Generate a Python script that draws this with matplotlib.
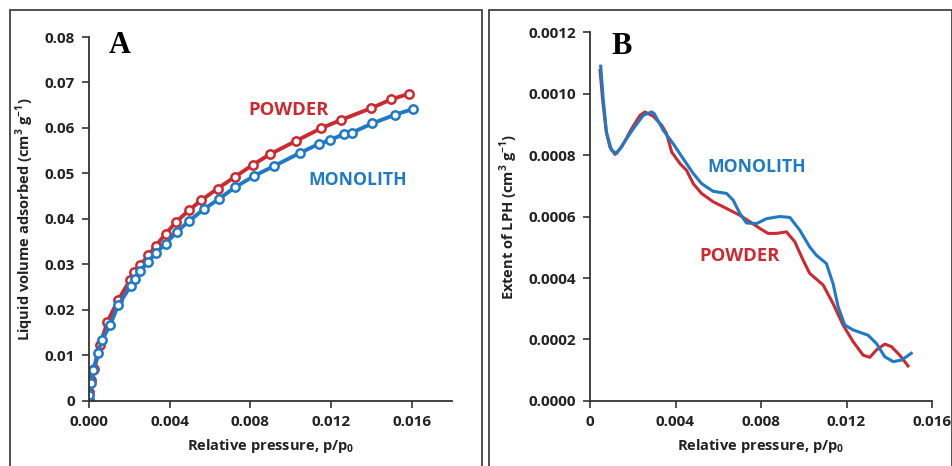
import matplotlib.pyplot as plt
from matplotlib.patches import Rectangle

plt.rcParams['font.family'] = ['Open Sans', 'DejaVu Sans']
plt.rcParams['mathtext.fontset'] = 'custom'
plt.rcParams['mathtext.rm'] = 'Open Sans:bold'
plt.rcParams['mathtext.bf'] = 'Open Sans:bold'

RED = '#CC2A30'
BLUE = '#1E7AC6'

# panel A: isotherm points
powder_x = [0.0, 0.00002, 0.0001, 0.00027, 0.00055, 0.00091, 0.00146, 0.00204,
            0.00224, 0.00255, 0.00295, 0.00331, 0.00381, 0.00431, 0.00495,
            0.00556, 0.00638, 0.00725, 0.00812, 0.00896, 0.01024, 0.01149,
            0.01251, 0.01396, 0.01499, 0.01585]
powder_y = [0.0002, 0.002, 0.0046, 0.0070, 0.0123, 0.0174, 0.0223, 0.0266,
            0.0283, 0.0299, 0.0320, 0.0341, 0.0368, 0.0393, 0.0419, 0.0441,
            0.0467, 0.0493, 0.0519, 0.0542, 0.0571, 0.0599, 0.0618, 0.0643,
            0.0663, 0.0675]
mono_x = [0.0, 0.00002, 0.0001, 0.00022, 0.00043, 0.00065, 0.00104, 0.00146,
          0.00207, 0.00227, 0.00253, 0.00291, 0.0033, 0.00381, 0.00434,
          0.00497, 0.00568, 0.00644, 0.00725, 0.0082, 0.00916, 0.01045,
          0.0114, 0.01194, 0.01264, 0.01305, 0.01405, 0.01516, 0.01608]
mono_y = [0.0002, 0.0013, 0.0039, 0.0068, 0.0105, 0.0134, 0.0167, 0.0211,
          0.0253, 0.0269, 0.0286, 0.0305, 0.0325, 0.0346, 0.0371, 0.0396,
          0.0421, 0.0444, 0.0470, 0.0495, 0.0516, 0.0545, 0.0565, 0.0573,
          0.0587, 0.0590, 0.0610, 0.0629, 0.0642]

# panel B: extent of LPH curves
lph_mono_x = [0.0005, 0.00062, 0.00078, 0.00101, 0.00125, 0.00156, 0.00203,
              0.00249, 0.00288, 0.0030, 0.00343, 0.00389, 0.00436, 0.00483,
              0.00522, 0.00576, 0.00639, 0.0067, 0.00701, 0.00732, 0.00779,
              0.00826, 0.00888, 0.00935, 0.00981, 0.01028, 0.01059, 0.01106,
              0.01137, 0.01161, 0.01192, 0.01231, 0.01301, 0.0134, 0.01379,
              0.01418, 0.01457, 0.01503]
lph_mono_y = [0.001089, 0.00098, 0.00087, 0.000815, 0.000805, 0.000837,
              0.000886, 0.000929, 0.00094, 0.000935, 0.00088, 0.000837,
              0.000788, 0.00074, 0.000707, 0.000682, 0.000675, 0.000653,
              0.00061, 0.000579, 0.000577, 0.000593, 0.0006, 0.000597,
              0.000556, 0.000501, 0.000474, 0.000447, 0.000382, 0.000306,
              0.000247, 0.000231, 0.000214, 0.000187, 0.000144, 0.000128,
              0.000133, 0.000155]
lph_powder_x = [0.00047, 0.00059, 0.00075, 0.00093, 0.00117, 0.00148, 0.00195,
                0.00234, 0.00257, 0.00296, 0.00335, 0.00358, 0.00382, 0.00421,
                0.00452, 0.00483, 0.00522, 0.00576, 0.00639, 0.00701, 0.00748,
                0.00795, 0.00833, 0.00872, 0.00919, 0.00958, 0.00997, 0.01028,
                0.01091, 0.01137, 0.01184, 0.01231, 0.01278, 0.01309, 0.0134,
                0.01379, 0.0141, 0.01449, 0.01488]
lph_powder_y = [0.001075, 0.00098, 0.00088, 0.000826, 0.000802, 0.000826,
                0.000886, 0.000929, 0.00094, 0.000926, 0.000897, 0.00087,
                0.00081, 0.000772, 0.00075, 0.000707, 0.000675, 0.000648,
                0.000626, 0.000604, 0.000583, 0.000561, 0.000545, 0.000545,
                0.00055, 0.000518, 0.000458, 0.000415, 0.000377, 0.000317,
                0.000247, 0.000193, 0.000149, 0.000142, 0.000166, 0.000185,
                0.000177, 0.000149, 0.000114]

a_xticks = [0.0, 0.004, 0.008, 0.012, 0.016]
a_xlabels = ['0.000', '0.004', '0.008', '0.012', '0.016']
a_yticks = [0, 0.01, 0.02, 0.03, 0.04, 0.05, 0.06, 0.07, 0.08]
a_ylabels = ['0', '0.01', '0.02', '0.03', '0.04', '0.05', '0.06', '0.07', '0.08']
b_xticks = [0.0, 0.004, 0.008, 0.012, 0.016]
b_xlabels = ['0', '0.004', '0.008', '0.012', '0.016']
b_yticks = [0, 0.0002, 0.0004, 0.0006, 0.0008, 0.0010, 0.0012]
b_ylabels = ['0.0000', '0.0002', '0.0004', '0.0006', '0.0008', '0.0010', '0.0012']

fig = plt.figure(figsize=(9.53, 4.66), dpi=100)

# panel frames
fig.patches.append(Rectangle((10 / 953, -0.05), 472 / 953, 1.05 - 10 / 466,
                             transform=fig.transFigure, fill=False,
                             edgecolor='#333333', lw=1.2))
fig.patches.append(Rectangle((489 / 953, -0.05), 463 / 953, 1.05 - 10 / 466,
                             transform=fig.transFigure, fill=False,
                             edgecolor='#333333', lw=1.2))

axA = fig.add_axes([89 / 953, 0.1395, (452 - 89) / 953, 0.9206 - 0.1395])
axB = fig.add_axes([590 / 953, 0.1395, (932 - 590) / 953, 0.9313 - 0.1395])


def style(ax):
    for s in ['top', 'right']:
        ax.spines[s].set_visible(False)
    for s in ['left', 'bottom']:
        ax.spines[s].set_color('#333333')
        ax.spines[s].set_linewidth(1.3)
    ax.tick_params(direction='out', length=5, width=1.2, color='#333333',
                   labelsize=11, labelcolor='#222222', pad=5)
    for lab in ax.get_xticklabels() + ax.get_yticklabels():
        lab.set_fontweight('bold')


mk = dict(marker='o', markersize=6, markerfacecolor='white', markeredgewidth=1.8)
axA.plot(powder_x, powder_y, color=RED, lw=2.8, markeredgecolor=RED, **mk)
axA.plot(mono_x, mono_y, color=BLUE, lw=2.8, markeredgecolor=BLUE, **mk)
axA.set_xlim(0, 0.018)
axA.set_ylim(0, 0.08)
axA.set_xticks(a_xticks, a_xlabels)
axA.set_yticks(a_yticks, a_ylabels)
style(axA)
axA.set_xlabel('Relative pressure, p/p$_0$', fontsize=10.5, fontweight='bold',
               color='#222222', labelpad=6)
axA.set_ylabel('Liquid volume adsorbed (cm$^3$ g$^{-1}$)', fontsize=10.5,
               fontweight='bold', color='#222222', labelpad=6)
axA.text(0.0079, 0.0629, 'POWDER', color=RED, fontsize=13.3, fontweight='bold')
axA.text(0.01088, 0.0475, 'MONOLITH', color=BLUE, fontsize=12.7, fontweight='bold')
axA.text(0.0010, 0.0765, 'A', family='Liberation Serif', fontsize=22,
         fontweight='bold', color='black')

axB.plot(lph_powder_x, lph_powder_y, color=RED, lw=2.2)
axB.plot(lph_mono_x, lph_mono_y, color=BLUE, lw=2.2)
axB.set_xlim(0, 0.016)
axB.set_ylim(0, 0.0012)
axB.set_xticks(b_xticks, b_xlabels)
axB.set_yticks(b_yticks, b_ylabels)
style(axB)
axB.set_xlabel('Relative pressure, p/p$_0$', fontsize=10.5, fontweight='bold',
               color='#222222', labelpad=6)
axB.set_ylabel('Extent of LPH (cm$^3$ g$^{-1}$)', fontsize=10.5,
               fontweight='bold', color='#222222', labelpad=6)
axB.text(0.0055, 0.000745, 'MONOLITH', color=BLUE, fontsize=12.7, fontweight='bold')
axB.text(0.00512, 0.000455, 'POWDER', color=RED, fontsize=13.3, fontweight='bold')
axB.text(0.00102, 0.00113, 'B', family='Liberation Serif', fontsize=22,
         fontweight='bold', color='black')

fig.savefig('out.png', dpi=100)
